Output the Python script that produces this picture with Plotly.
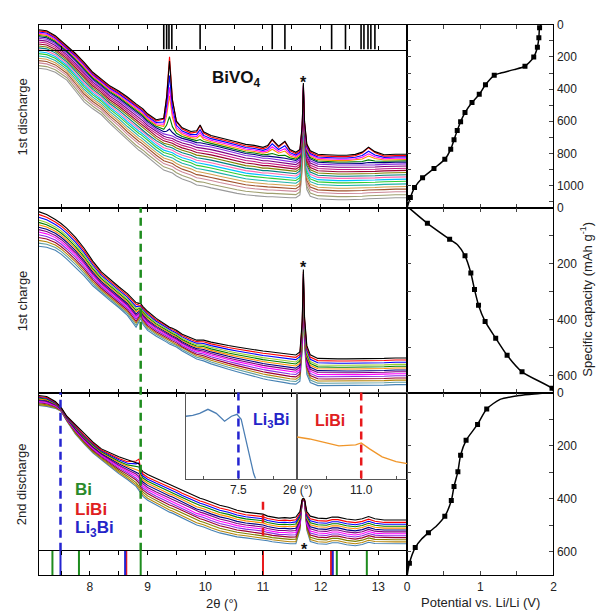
import plotly.graph_objects as go

W, H = 598, 611

# ---------------- XRD data (intensities in arbitrary units) ----------------
TWO_THETA = [7.11, 7.25, 7.4, 7.5, 7.6, 7.75, 7.9, 8.05, 8.2, 8.35,
             8.5, 8.65, 8.8, 8.85, 8.88, 8.92, 9.0, 9.15, 9.28, 9.33,
             9.38, 9.43, 9.5, 9.6, 9.75, 9.85, 9.91, 9.97, 10.1, 10.25,
             10.4, 10.55, 10.7, 10.85, 11.0, 11.08, 11.16, 11.27, 11.38, 11.47,
             11.57, 11.64, 11.68, 11.70, 11.72, 11.76, 11.82, 11.95, 12.1, 12.2,
             12.3, 12.45, 12.6, 12.72, 12.83, 12.94, 13.1, 13.3, 13.5]

# 1st discharge: lowest scan, envelope width, BiVO4 reflections of strongest scan
D1_BASE = [141, 140, 137, 133, 129, 118, 107, 100, 94, 85,
           77, 68, 60, 58, 57, 55, 51, 44, 38, 37,
           36, 35, 32, 29, 26, 23, 22.5, 22, 20, 18,
           16, 14.5, 13, 12, 11, 11, 11, 10.5, 10, 10,
           10, 10, 10, 10, 10, 10, 9.5, 9, 8.5, 8,
           8, 8, 8, 8.5, 9, 9, 9.5, 10, 10]
D1_SPREAD = [39, 39, 37, 36, 35, 38, 40, 37, 36, 38,
             41, 44, 45, 45, 45, 45, 44, 45, 47, 47,
             48, 48, 49, 50, 51, 52, 52, 52, 53, 53,
             53, 52, 51, 51, 50, 50, 49, 49, 48, 47,
             46, 46, 46, 46, 46, 46, 46, 45, 45, 45,
             45, 45, 45, 44, 44, 44, 44, 44, 44]
D1_BIVO4 = [0, 0, 0, 0, 0, 0, 0, 0, 0, 0,
            0, 0, 0, 0, 0, 0, 0, 0, 6, 30,
            70, 28, 7, 2, 0, 3, 10, 3, 0, 0,
            0, 0, 0, 0, 0, 2, 10, 3, 10, 2,
            0, 0, 0, 0, 0, 0, 0, 0, 0, 0,
            0, 0, 1, 4, 9, 4, 0, 0, 0]
SPIKE = [0, 0, 0, 0, 0, 0, 0, 0, 0, 0,
         0, 0, 0, 0, 0, 0, 0, 0, 0, 0,
         0, 0, 0, 0, 0, 0, 0, 0, 0, 0,
         0, 0, 0, 0, 0, 0, 0, 0, 0, 0,
         0, 0.04, 0.4, 1.0, 0.45, 0.12, 0.03, 0, 0, 0,
         0, 0, 0, 0, 0, 0, 0, 0, 0]
D1_FRAC = [1.0, 0.97, 0.94, 0.91, 0.88, 0.85, 0.82, 0.78, 0.73, 0.68, 0.63,
           0.58, 0.53, 0.48, 0.43, 0.38, 0.32, 0.26, 0.2, 0.14, 0.07, 0.0]
D1_PEAK = [0.92, 1.0, 0.75, 0.6, 0.5, 0.22, 0.06, 0, 0, 0, 0,
           0, 0, 0, 0, 0, 0, 0, 0, 0, 0, 0]
D1_SPIKE = 70
D1_COLORS = ['#000000', '#ff0000', '#0000ff', '#ff00ff', '#ff8c00', '#008000',
             '#000080', '#8a2be2', '#800080', '#c71585', '#9b0030', '#808000',
             '#008080', '#ff69b4', '#00bfff', '#32cd32', '#20b2aa', '#d2a050',
             '#a0522d', '#cc8899', '#a0a070', '#999999']

# 1st charge
D2_BASE = [148, 147, 144, 140, 135, 127, 118, 108, 100, 93,
           86, 78, 70, 68, 67, 65, 62, 57, 53, 51,
           49, 48, 46, 42, 37, 34, 33, 32, 29, 26,
           23.5, 21, 18.5, 16, 14, 13, 12, 11, 10, 9,
           8.5, 8, 8, 8, 8, 8, 7.5, 7, 7, 7,
           7, 7, 7, 7, 7, 7, 7.5, 8, 8]
D2_SPREAD = [35, 33, 31, 31, 31, 30, 28, 25, 22, 21,
             21, 22, 22, 21, 21, 21, 20, 18, 17, 17,
             17, 17, 17, 17, 18, 19, 20, 21, 22, 23,
             24, 25, 26, 27, 28, 28.5, 29, 29, 29.5, 29.5,
             29.5, 29.5, 29.5, 29.5, 29.5, 29, 28, 27.5, 27, 27,
             27, 27, 27, 27, 27, 27, 27, 27, 27]
D2_KINK = [0, 0, 0, 0, 0, 0, 0, 0, 0, 0,
           0, 0, -0.5, 0.6, 1.0, 0.5, 0.1, 0, 0, 0,
           0, 0, 0, 0, 0, 0, 0, 0, 0, 0,
           0, 0, 0, 0, 0, 0, 0, 0, 0, 0,
           0, 0, 0, 0, 0, 0, 0, 0, 0, 0,
           0, 0, 0, 0, 0, 0, 0, 0, 0]
D2_FRAC = [1.0, 0.92, 0.84, 0.76, 0.69, 0.62, 0.55, 0.48, 0.41, 0.33, 0.25, 0.17, 0.09, 0.0]
D2_KINK_AMP = [2, 2, 3, 3, 4, 4, 5, 5, 6, 6, 7, 7, 8, 8]
D2_SPIKE = 87
D2_COLORS = ['#000000', '#ff0000', '#0000ff', '#9acd32', '#008000', '#ff8c00',
             '#000080', '#800080', '#ff00ff', '#8a2be2', '#9b0030', '#b8860b',
             '#5f9ea0', '#4682b4']

# 2nd discharge
D3_BASE = [172, 171, 169, 166, 156, 143, 133, 124, 117, 110,
           103, 97, 90, 86, 83, 80, 76, 71, 67, 65,
           64, 63, 61, 58, 54, 51, 50, 49, 46, 43,
           41, 39, 38, 37, 36, 35, 34, 33, 32.5, 32,
           32, 32, 32, 32, 32, 32, 32, 32, 31.5, 31,
           31, 30.5, 30, 30.5, 31, 31.5, 32, 32, 32]
D3_SPREAD = [10, 10, 7, 4, 5, 9, 10, 11, 11, 14,
             17, 20, 23, 24, 24, 25, 26, 27, 28, 28,
             28, 28, 28, 28, 28, 28, 28, 28, 28, 28,
             28, 27, 26, 26, 26, 25, 25, 25, 26, 26,
             27, 27, 27, 27, 27, 27, 27, 26, 26, 26,
             26, 26, 26, 26, 26, 25, 24, 24, 24]
D3_BI = [0, 0, 0, 0, 0, 0, 0, 0, 0, 0,
         0, 0, 0.5, 1.0, 0.3, 0, 0, 0, 0, 0,
         0, 0, 0, 0, 0, 0, 0, 0, 0, 0,
         0, 0, 0, 0, 0, 0, 0, 0, 0, 0,
         0, 0, 0, 0, 0, 0, 0, 0, 0, 0,
         0, 0, 0, 0, 0, 0, 0, 0, 0]
D3_SMALL = [0, 0, 0, 0, 0, 0, 0, 0, 0, 0,
            0, 0, 0, 0, 0, 0, 0, 0, 0, 0,
            0, 0, 0, 0, 0, 0, 0, 0, 0, 0,
            0, 0, 0, 0, 0, 0, 0, 0, 0, 0,
            0, 0, 0, 0, 0, 0, 0, 0, 0, 0.8,
            0.8, 0.2, 0, 0.3, 1.0, 0.3, 0, 0, 0]
D3_SPIKE_SHAPE = [0, 0, 0, 0, 0, 0, 0, 0, 0, 0,
                  0, 0, 0, 0, 0, 0, 0, 0, 0, 0,
                  0, 0, 0, 0, 0, 0, 0, 0, 0, 0,
                  0, 0, 0, 0, 0, 0, 0, 0, 0, 0,
                  0, 0.3, 0.95, 1.0, 0.95, 0.3, 0.05, 0, 0, 0,
                  0, 0, 0, 0, 0, 0, 0, 0, 0]
D3_FRAC = [1.0, 0.9, 0.82, 0.74, 0.66, 0.58, 0.5, 0.42, 0.34, 0.26, 0.17, 0.08, 0.0]
D3_BI_AMP = [3, 10, 8, 6, 4, 3, 2, 2, 1, 1, 0, 0, 0]
D3_SMALL_AMP = 2.5
D3_SPIKE_AMP = [19, 21, 23, 25, 27, 29, 31, 33, 35, 38, 41, 44, 46]
D3_COLORS = ['#000000', '#ff0000', '#0000ff', '#008000', '#ff8c00', '#000080',
             '#800080', '#ff00ff', '#8a2be2', '#9b0030', '#808000', '#b8860b', '#4682b4']

# reference reflections
BIVO4_REF = [9.28, 9.33, 9.37, 9.42, 9.91, 11.16, 11.38, 12.19, 12.43,
             12.70, 12.75, 12.82, 12.87, 12.94]
BI_REF = [7.35, 7.81, 8.88, 12.28, 12.80]
LIBI_REF = [8.63, 11.0, 12.18]
LI3BI_REF = [7.49, 8.61, 12.21]
BI_DASH = 8.88
LI3BI_DASH = 7.49
LIBI_DASH = 11.0

# inset
INSET_LI3BI_X = [7.12, 7.17, 7.22, 7.28, 7.34, 7.40, 7.45, 7.49, 7.52, 7.56, 7.61, 7.65]
INSET_LI3BI_Y = [63, 64, 66, 70, 66, 58, 63, 65, 60, 36, 5, -10]
INSET_LIBI_X = [10.54, 10.63, 10.72, 10.84, 10.96, 11.0, 11.06, 11.15, 11.25, 11.33]
INSET_LIBI_Y = [42, 40, 37, 33, 34, 36, 30, 22, 17, 15]

# ---------------- electrochemistry ----------------
DIS1_V = [1.81, 1.80, 1.78, 1.73, 1.61, 1.19, 1.07, 0.985, 0.886, 0.79,
          0.73, 0.684, 0.64, 0.595, 0.514, 0.366, 0.21, 0.10, 0.043]
DIS1_C = [18, 80, 140, 201, 258, 314, 373, 433, 484, 546,
          603, 658, 716, 775, 837, 894, 952, 1013, 1075]
DIS1_LINE_V = [1.83, 1.81, 1.80, 1.78, 1.73, 1.61, 1.46, 1.28, 1.19, 1.07, 0.985, 0.886, 0.79,
               0.73, 0.684, 0.64, 0.595, 0.514, 0.366, 0.21, 0.10, 0.043, 0.0]
DIS1_LINE_C = [0, 18, 80, 140, 201, 258, 279, 300, 314, 373, 433, 484, 546,
               603, 658, 716, 775, 837, 894, 952, 1013, 1075, 1137]

CH1_V = [0.276, 0.58, 0.79, 0.87, 0.92, 0.975, 1.065, 1.21, 1.366, 1.57, 1.98]
CH1_C = [56, 113, 172, 233, 292, 348, 406, 466, 527, 586, 645]
CH1_LINE_V = [0.02, 0.276, 0.58, 0.69, 0.79, 0.87, 0.92, 0.975, 1.065, 1.21, 1.366, 1.57, 1.98, 2.0]
CH1_LINE_C = [0, 56, 113, 133, 172, 233, 292, 348, 406, 466, 527, 586, 645, 655]

DIS2_V = [1.087, 0.962, 0.805, 0.73, 0.693, 0.64, 0.603, 0.514, 0.29, 0.11, 0.03]
DIS2_C = [62, 120, 180, 236, 298, 354, 407, 466, 528, 584, 643]
DIS2_LINE_V = [1.95, 1.81, 1.54, 1.27, 1.087, 0.962, 0.805, 0.73, 0.693, 0.64, 0.603,
               0.514, 0.40, 0.29, 0.2, 0.11, 0.03, 0.0]
DIS2_LINE_C = [0, 4, 11, 26, 62, 120, 180, 236, 298, 354, 407,
               466, 503, 528, 551, 584, 643, 689]

XRD_MAJOR = [8, 9, 10, 11, 12, 13]
XRD_MINOR = [7.5, 8.5, 9.5, 10.5, 11.5, 12.5]

# ---------------- helpers ----------------
def px(x):
    return x / W


def py(y):
    return 1 - y / H


FONT = 'Arial, Liberation Sans, sans-serif'
fig = go.Figure()


def add(x, y, ax, **kw):
    fig.add_trace(go.Scatter(x=x, y=y, xaxis='x' + ax, yaxis='y' + ax,
                             showlegend=False, hoverinfo='skip', **kw))


def stack(base, spread, frac, extras):
    y = [b + frac * s for b, s in zip(base, spread)]
    for prof, amp in extras:
        y = [v + amp * p for v, p in zip(y, prof)]
    return y


for i in reversed(range(len(D1_FRAC))):
    y = stack(D1_BASE, D1_SPREAD, D1_FRAC[i], [(D1_BIVO4, D1_PEAK[i]), (SPIKE, D1_SPIKE)])
    add(TWO_THETA, y, '1', mode='lines', line=dict(color=D1_COLORS[i], width=1.1))

for i in reversed(range(len(D2_FRAC))):
    y = stack(D2_BASE, D2_SPREAD, D2_FRAC[i], [(D2_KINK, D2_KINK_AMP[i]), (SPIKE, D2_SPIKE)])
    add(TWO_THETA, y, '2', mode='lines', line=dict(color=D2_COLORS[i], width=1.1))

for i in reversed(range(len(D3_FRAC))):
    y = stack(D3_BASE, D3_SPREAD, D3_FRAC[i], [(D3_BI, D3_BI_AMP[i]), (D3_SMALL, D3_SMALL_AMP),
                                                (D3_SPIKE_SHAPE, D3_SPIKE_AMP[i])])
    add(TWO_THETA, y, '3', mode='lines', line=dict(color=D3_COLORS[i], width=1.1))


def vlines(xs):
    X, Y = [], []
    for v in xs:
        X += [v, v, None]
        Y += [0, 1, None]
    return X, Y


X, Y = vlines(BIVO4_REF)
add(X, Y, '4', mode='lines', line=dict(color='black', width=1.6))
for refs, col in [(BI_REF, '#1e8c1e'), (LIBI_REF, '#e8191c'), (LI3BI_REF, '#2424d0')]:
    X, Y = vlines(refs)
    add(X, Y, '5', mode='lines', line=dict(color=col, width=2))

for lv, lc, mv, mc, ax in [(DIS1_LINE_V, DIS1_LINE_C, DIS1_V, DIS1_C, '6'),
                           (CH1_LINE_V, CH1_LINE_C, CH1_V, CH1_C, '7'),
                           (DIS2_LINE_V, DIS2_LINE_C, DIS2_V, DIS2_C, '8')]:
    add(lv, lc, ax, mode='lines', line=dict(color='black', width=1.5, shape='spline', smoothing=0.7))
    add(mv, mc, ax, mode='markers', marker=dict(symbol='square', size=5, color='black'))

add(INSET_LI3BI_X, INSET_LI3BI_Y, '9', mode='lines', line=dict(color='#4a7db3', width=1.3))
add(INSET_LIBI_X, INSET_LIBI_Y, '10', mode='lines', line=dict(color='#f0962a', width=1.3))

# ---------------- axes ----------------
XR = [7.11, 13.5]
LX = [px(36), px(409)]
RX = [px(409), px(557)]
TF = dict(size=12, color='#222', family=FONT)


def frame(**kw):
    d = dict(showline=True, linecolor='black', linewidth=1, mirror=True,
             showgrid=False, zeroline=False, fixedrange=True)
    d.update(kw)
    return d


def xrd_x(anchor, labels=False):
    return frame(range=XR, domain=LX, anchor=anchor, tickmode='array', tickvals=XRD_MAJOR,
                 ticks='inside', ticklen=4, tickcolor='black', mirror='allticks',
                 showticklabels=labels, tickfont=TF,
                 minor=dict(tickmode='array', tickvals=XRD_MINOR, ticks='inside',
                            ticklen=4, tickcolor='black', showgrid=False))


def plain_y(anchor, rng, dom):
    return frame(range=rng, domain=dom, anchor=anchor, showticklabels=False, ticks='')


def echem_x(anchor, labels=False):
    return frame(range=[0, 2], domain=RX, anchor=anchor, tickmode='array',
                 tickvals=[0, 1, 2], showticklabels=labels, ticks='inside', ticklen=4,
                 mirror='allticks', tickfont=TF,
                 minor=dict(tickmode='array', tickvals=[0.5, 1.5], ticks='inside',
                            ticklen=4, showgrid=False))


def echem_y(anchor, top, dom, maxlab):
    major = list(range(0, maxlab + 1, 200))
    minor = [v for v in range(100, int(top), 200)]
    return frame(range=[top, 0], domain=dom, anchor=anchor, side='right', tickmode='array',
                 tickvals=major, ticks='inside', ticklen=4, mirror='allticks', tickfont=TF,
                 minor=dict(tickmode='array', tickvals=minor, ticks='inside',
                            ticklen=4, showgrid=False))


D1 = [py(203), py(18)]
D2 = [py(390), py(203)]
D3 = [py(575), py(390)]

fig.update_layout(
    xaxis=xrd_x('y'), yaxis=plain_y('x', [0, 185], D1),
    xaxis2=xrd_x('y2'), yaxis2=plain_y('x2', [0, 187], D2),
    xaxis3=xrd_x('y3'), yaxis3=plain_y('x3', [0, 185], D3),
    xaxis4=xrd_x('y4'), yaxis4=plain_y('x4', [0, 1], [py(43), py(18)]),
    xaxis5=xrd_x('y5', labels=True), yaxis5=plain_y('x5', [0, 1], [py(575), py(550)]),
    xaxis6=echem_x('y6'), yaxis6=echem_y('x6', 1138, D1, 1000),
    xaxis7=echem_x('y7'), yaxis7=echem_y('x7', 660, D2, 600),
    xaxis8=echem_x('y8', labels=True), yaxis8=echem_y('x8', 689, D3, 600),
    xaxis9=frame(range=[7.12, 7.92], domain=[px(185), px(297)], anchor='y9', linecolor='#555',
                 tickmode='array', tickvals=[7.5], ticktext=['7.5'],
                 ticks='inside', ticklen=3, tickcolor='#555', tickfont=TF,
                 minor=dict(tickmode='array', tickvals=[7.25, 7.75], ticks='inside',
                            ticklen=3, tickcolor='#555', showgrid=False)),
    yaxis9=frame(range=[0, 87], domain=[py(477), py(390)], anchor='x9', linecolor='#555',
                 showticklabels=False, ticks=''),
    xaxis10=frame(range=[10.536, 11.33], domain=[px(297), px(409)], anchor='y10', linecolor='#555',
                  tickmode='array', tickvals=[11.0], ticktext=['11.0'],
                  ticks='inside', ticklen=3, tickcolor='#555', tickfont=TF,
                  minor=dict(tickmode='array', tickvals=[10.75, 11.25], ticks='inside',
                             ticklen=3, tickcolor='#555', showgrid=False)),
    yaxis10=frame(range=[0, 87], domain=[py(477), py(390)], anchor='x10', linecolor='#555',
                  showticklabels=False, ticks=''),
)

fig.add_shape(type='line', xref='x2', yref='paper', x0=BI_DASH, x1=BI_DASH, y0=py(550), y1=py(203),
              line=dict(color='#1e8c1e', width=2.5, dash='8px,5px'))
fig.add_shape(type='line', xref='x3', yref='paper', x0=LI3BI_DASH, x1=LI3BI_DASH, y0=py(550), y1=py(390),
              line=dict(color='#2424d0', width=2.5, dash='8px,5px'))
fig.add_shape(type='line', xref='x3', yref='paper', x0=LIBI_DASH, x1=LIBI_DASH, y0=py(535), y1=py(497),
              line=dict(color='#e8191c', width=2.5, dash='8px,5px'))
fig.add_shape(type='line', xref='x9', yref='paper', x0=7.5, x1=7.5, y0=py(477), y1=py(390),
              line=dict(color='#2424d0', width=2.5, dash='8px,5px'))
fig.add_shape(type='line', xref='x10', yref='paper', x0=LIBI_DASH, x1=LIBI_DASH, y0=py(477), y1=py(390),
              line=dict(color='#e8191c', width=2.5, dash='8px,5px'))


def txt(x, y, s, size=13, color='#222', angle=0, xanchor='center'):
    fig.add_annotation(x=px(x), y=py(y), xref='paper', yref='paper', text=s, showarrow=False,
                       textangle=angle, xanchor=xanchor, yanchor='middle',
                       font=dict(family=FONT, size=size, color=color))


txt(20, 111, '1st discharge', 13, angle=-90)
txt(20, 297, '1st charge', 13, angle=-90)
txt(19, 483, '2nd discharge', 13, angle=-90)
txt(236, 73, '<b>BiVO<sub>4</sub></b>', 17, '#111')
txt(304, 76, '<b>*</b>', 16, '#111')
txt(304, 264, '<b>*</b>', 16, '#111')
txt(305, 549, '<b>*</b>', 16, '#111')
txt(71, 488, '<b>Bi</b>', 17, '#2a8a2a', xanchor='left')
txt(71, 508, '<b>LiBi</b>', 17, '#e02020', xanchor='left')
txt(71, 528, '<b>Li<sub>3</sub>Bi</b>', 17, '#2424c8', xanchor='left')
txt(271, 418, '<b>Li<sub>3</sub>Bi</b>', 16, '#2424c8')
txt(331, 418, '<b>LiBi</b>', 16, '#e02020')
txt(298, 489, '2θ (°)', 12)
txt(222, 603, '2θ (°)', 13)
txt(483, 602, 'Potential vs. Li/Li (V)', 13)
txt(590, 296, 'Specific capacity (mAh g<sup>-1</sup>)', 13, angle=-90)

fig.update_layout(width=W, height=H, margin=dict(l=0, r=0, t=0, b=0), autosize=False,
                  paper_bgcolor='white', plot_bgcolor='rgba(0,0,0,0)',
                  font=dict(family=FONT, size=12, color='#222'))

fig.write_html('out.html')
